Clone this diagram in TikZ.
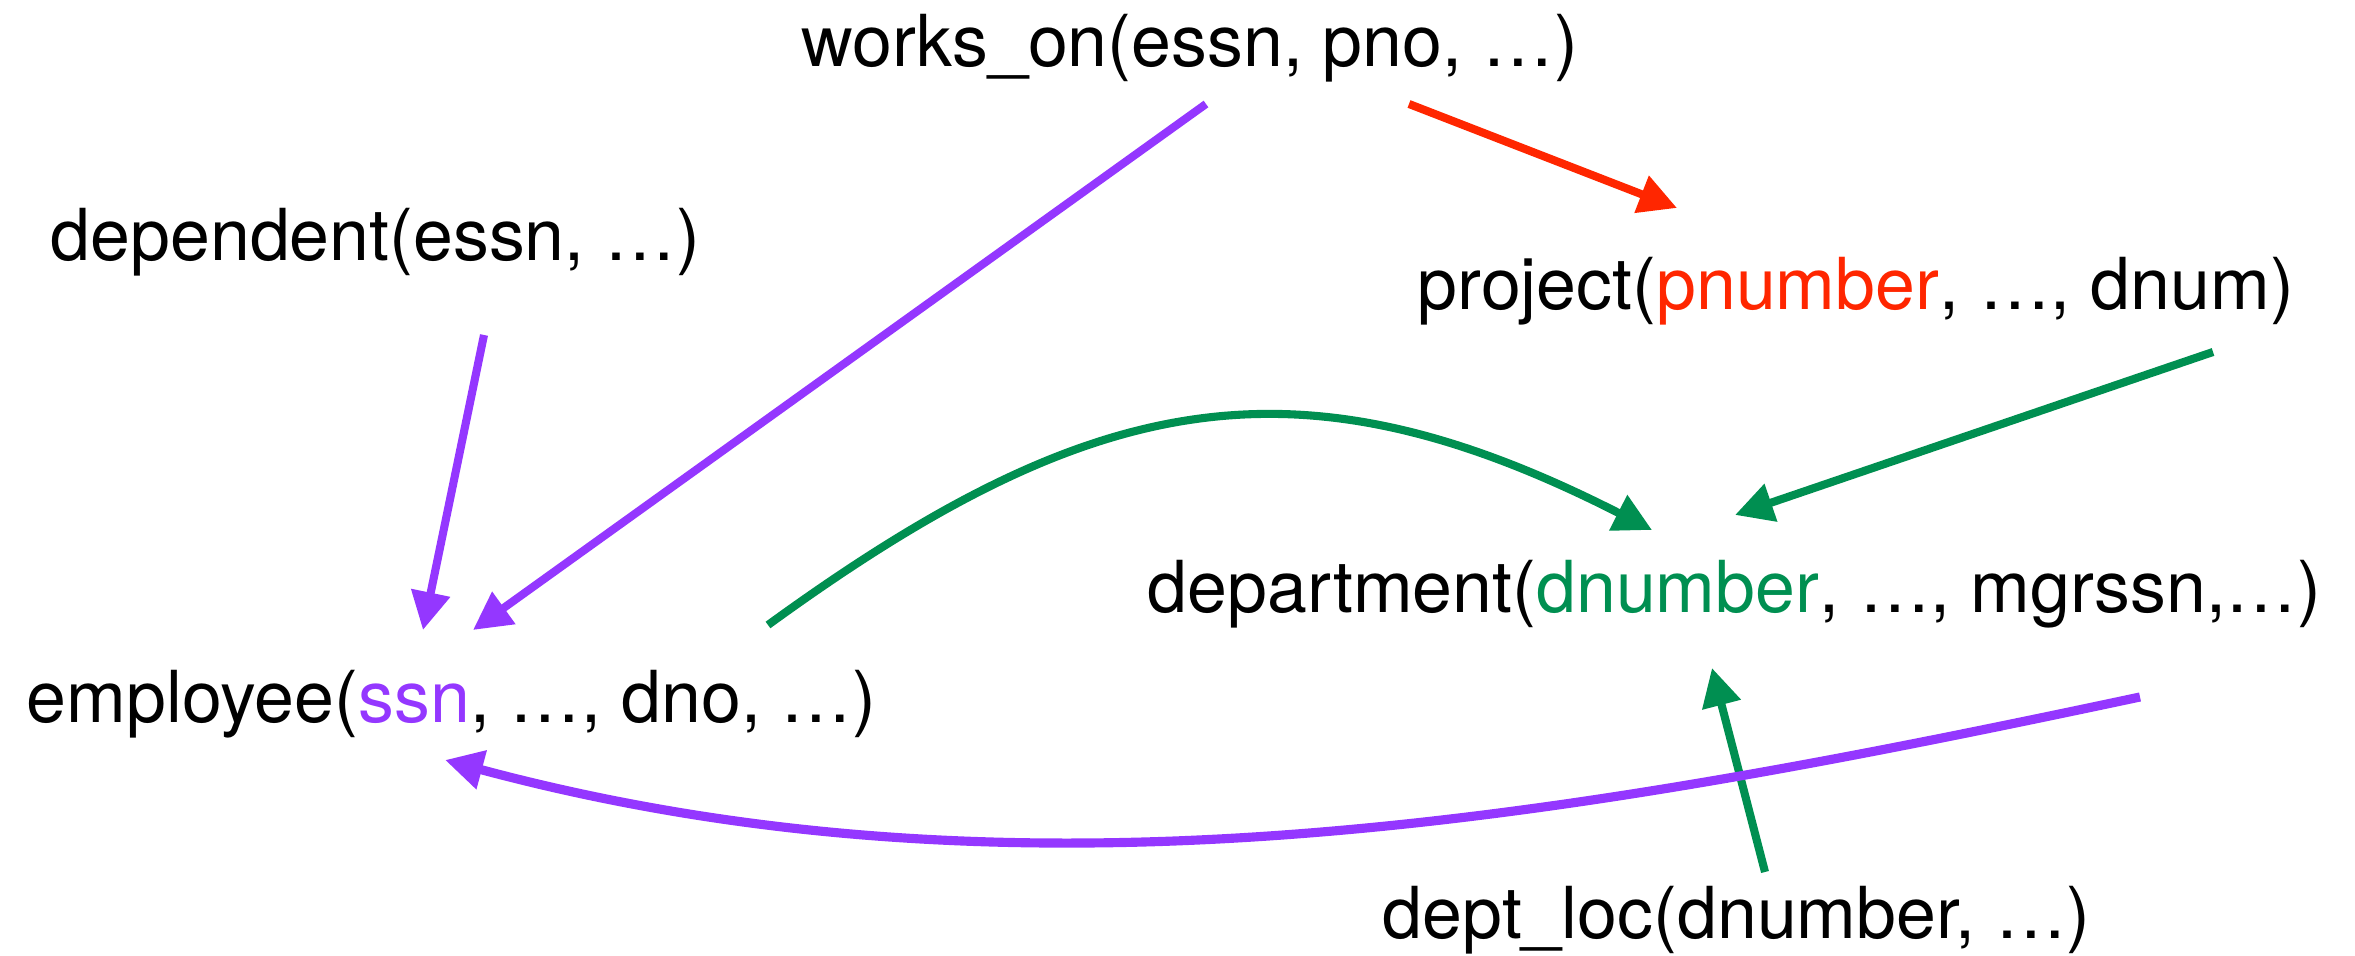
\documentclass[tikz,border=0pt]{standalone}
\usepackage{fontspec}
\setmainfont{TeX Gyre Heros}
\usetikzlibrary{arrows.meta}
\definecolor{violette}{HTML}{9437FF}
\definecolor{rouge}{HTML}{FF2600}
\definecolor{vert}{HTML}{008F51}

\begin{document}
\begin{tikzpicture}
\tikzset{rel/.style={anchor=base west, inner sep=0pt, font=\fontsize{20.4}{24}\selectfont}}
\tikzset{fleche/.style={-{Triangle[length=3.8mm,width=3.8mm]}, line width=2.3pt}}
\useasboundingbox (0,0) rectangle (23.55,9.56);
\node[rel] (Wo) at (8.01,8.89) {works\_on(essn, pno, …)};
\node[rel] (Dep) at (0.50,6.95) {dependent(essn, …)};
\node[rel] (Pro) at (14.17,6.46) {project(\textcolor{rouge}{pnumber}, …, dnum)};
\node[rel] (Dept) at (11.47,3.43) {department(\textcolor{vert}{dnumber}, …, mgrssn,…)};
\node[rel] (Emp) at (0.26,2.33) {employee(\textcolor{violette}{ssn}, …, dno, …)};
\node[rel] (Loc) at (13.82,0.17) {dept\_loc(dnumber, …)};
\draw[fleche, violette] ([shift={(4.05,-0.37)}]Wo.base west) -- ([shift={(4.47,0.93)}]Emp.base west);
\draw[fleche, rouge] ([shift={(6.08,-0.37)}]Wo.base west) -- ([shift={(2.60,1.02)}]Pro.base west);
\draw[fleche, violette] ([shift={(4.34,-0.74)}]Dep.base west) -- ([shift={(3.97,0.93)}]Emp.base west);
\draw[fleche, vert] ([shift={(7.96,-0.42)}]Pro.base west) -- ([shift={(5.88,0.98)}]Dept.base west);
\draw[fleche, vert] ([shift={(7.42,0.98)}]Emp.base west) to[out=36, in=153, looseness=1.15] ([shift={(5.05,0.83)}]Dept.base west);
\draw[fleche, vert] ([shift={(3.83,0.67)}]Loc.base west) -- ([shift={(5.65,-0.55)}]Dept.base west);
\draw[fleche, violette, line width=2.6pt] ([shift={(9.93,-0.84)}]Dept.base west) to[out=192, in=345, looseness=0.9] ([shift={(4.19,-0.37)}]Emp.base west);
\end{tikzpicture}
\end{document}
